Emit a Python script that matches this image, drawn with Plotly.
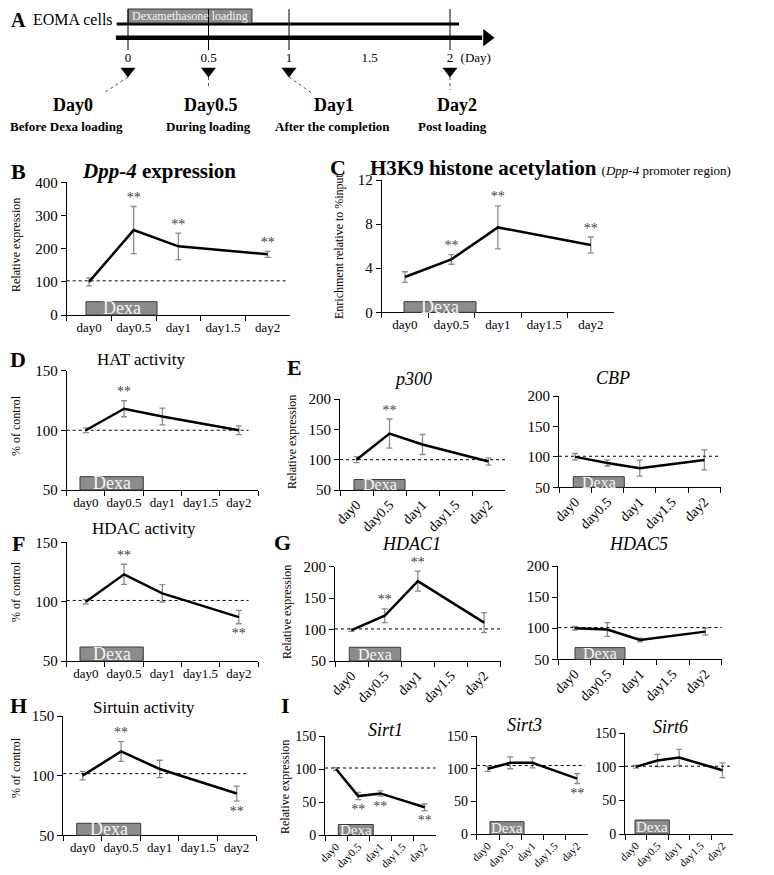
import plotly.graph_objects as go

# The page body has an 8px default margin, so the figure is drawn 8px smaller
# and every target pixel position is shifted by that offset.
PAGE_W, PAGE_H = 774, 875
OFF = 8
W, H = PAGE_W - OFF, PAGE_H - OFF
FONT = "Liberation Serif"

# ---------------- data ----------------
day_categories = ["day0", "day0.5", "day1", "day1.5", "day2"]
sampled_days = ["day0", "day0.5", "day1", "day2"]

dpp4_mean = [100, 256, 207, 183]
dpp4_err = [12, 71, 40, 9]
dpp4_sig = [0, 1, 1, 1]          # 1 = ** above, -1 = ** below

h3k9_mean = [3.2, 4.8, 7.7, 6.1]
h3k9_err = [0.48, 0.44, 1.95, 0.73]
h3k9_sig = [0, 1, 1, 1]

hat_mean = [100, 118, 111.5, 100]
hat_err = [2, 6.7, 7, 3.6]
hat_sig = [0, 1, 0, 0]

p300_mean = [100, 143, 125, 97]
p300_err = [5, 24, 16.5, 6]
p300_sig = [0, 1, 0, 0]

cbp_mean = [100, 90, 81.5, 95]
cbp_err = [5.5, 5, 13, 16.5]
cbp_sig = [0, 0, 0, 0]

hdac_act_mean = [100, 123, 107, 87]
hdac_act_err = [2, 8.5, 7.3, 5.6]
hdac_act_sig = [0, 1, 0, -1]

hdac1_mean = [99, 122, 177, 111]
hdac1_err = [2, 11, 16, 16]
hdac1_sig = [0, 1, 1, 0]

hdac5_mean = [100, 98, 81, 94.5]
hdac5_err = [3, 11, 3, 5.5]
hdac5_sig = [0, 0, 0, 0]

sirt_act_mean = [100, 120.3, 105.6, 85]
sirt_act_err = [3.5, 8.3, 7.3, 6.3]
sirt_act_sig = [0, 1, 0, -1]

sirt1_mean = [100, 59, 63, 42]
sirt1_err = [2, 5.5, 4, 5]
sirt1_sig = [0, -1, -1, -1]

sirt3_mean = [100, 109, 109, 85]
sirt3_err = [4, 9, 7.5, 7.5]
sirt3_sig = [0, 0, 0, -1]

sirt6_mean = [100, 109.5, 114, 95]
sirt6_err = [2, 9, 12, 11]
sirt6_sig = [0, 0, 0, 0]

timeline_ticks = [0, 0.5, 1, 1.5, 2]
timeline_tick_labels = ["0", "0.5", "1", "1.5", "2"]
event_days = [0, 0.5, 1, 2]
event_titles = ["Day0", "Day0.5", "Day1", "Day2"]
event_notes = ["Before Dexa loading", "During loading", "After the completion", "Post loading"]
loading_period = [0, 0.77]


def px2x(p):
    return (p - OFF) / W


def px2y(p):
    return 1 - (p - OFF) / H


fig = go.Figure()
shapes, annotations = [], []
layout = dict(
    width=W, height=H, autosize=False,
    margin=dict(l=0, r=0, t=0, b=0, pad=0),
    paper_bgcolor="white", plot_bgcolor="white",
    showlegend=False,
    font=dict(family=FONT, color="black"),
)


def ann(text, x, y, size, bold=False, angle=0, xanchor="center", color="black"):
    if bold:
        text = "<b>" + text + "</b>"
    annotations.append(dict(text=text, x=px2x(x), y=px2y(y), xref="paper", yref="paper",
                            showarrow=False, xanchor=xanchor, yanchor="middle",
                            textangle=angle, font=dict(size=size, family=FONT, color=color)))


# ---------------- panel A (timeline) ----------------
day_px0, day_scale = 128, 161.0
xa_left, xa_right = 100, 500
ya_top, ya_bot = 8, 135
layout["xaxis"] = dict(domain=[px2x(xa_left), px2x(xa_right)],
                       range=[(xa_left - day_px0) / day_scale, (xa_right - day_px0) / day_scale],
                       visible=False, anchor="y", fixedrange=True)
layout["yaxis"] = dict(domain=[px2y(ya_bot), px2y(ya_top)], range=[ya_bot, ya_top],
                       visible=False, anchor="x", fixedrange=True)

shapes.append(dict(type="line", xref="x", yref="y", x0=-0.07, x1=2.056, y0=24, y1=24,
                   line=dict(color="black", width=3)))
shapes.append(dict(type="rect", xref="x", yref="y", x0=loading_period[0], x1=loading_period[1],
                   y0=9, y1=23, fillcolor="#8c8c8c", line=dict(color="#333", width=1)))
annotations.append(dict(text="Dexamethasone loading", x=sum(loading_period) / 2, y=16, xref="x", yref="y",
                        showarrow=False, xanchor="center", yanchor="middle",
                        font=dict(size=12, family=FONT, color="#f2f2f2")))
shapes.append(dict(type="line", xref="x", yref="y", x0=-0.075, x1=2.2, y0=37.7, y1=37.7,
                   line=dict(color="black", width=4.5)))
for d in event_days:
    shapes.append(dict(type="line", xref="x", yref="y", x0=d, x1=d, y0=9, y1=50,
                       line=dict(color="black", width=1)))
fig.add_trace(go.Scatter(x=[2.23], y=[37.7], mode="markers", xaxis="x", yaxis="y",
                         marker=dict(symbol="triangle-right", size=15, color="black"),
                         hoverinfo="skip", cliponaxis=False))
fig.add_trace(go.Scatter(x=timeline_ticks, y=[59] * len(timeline_ticks), mode="text",
                         text=timeline_tick_labels, xaxis="x", yaxis="y",
                         textfont=dict(size=13, family=FONT), hoverinfo="skip", cliponaxis=False))
fig.add_trace(go.Scatter(x=[2.16], y=[59], mode="text", text=["(Day)"], xaxis="x", yaxis="y",
                         textfont=dict(size=13, family=FONT), hoverinfo="skip", cliponaxis=False))
fig.add_trace(go.Scatter(x=event_days, y=[71] * len(event_days), mode="markers", xaxis="x", yaxis="y",
                         marker=dict(symbol="triangle-down", size=13, color="black"),
                         hoverinfo="skip", cliponaxis=False))
conn_end = [(-0.15, 93), (0.5, 88), (1.14, 93), (2.0, 90)]
for d, (ex, ey) in zip(event_days, conn_end):
    shapes.append(dict(type="line", xref="x", yref="y", x0=d, x1=ex, y0=77, y1=ey,
                       line=dict(color="#555", width=1, dash="dot")))
title_px = [73, 211, 334, 457]
note_px = [66, 208, 332, 452]
for t, tx, n, nx in zip(event_titles, title_px, event_notes, note_px):
    ann(t, tx, 105, 18, bold=True)
    ann(n, nx, 126, 13, bold=True)
ann("A", 18, 20, 20, bold=True)
ann("EOMA cells", 31, 20, 16, xanchor="left")

# ---------------- line panels ----------------
panels = [
    dict(mean=dpp4_mean, err=dpp4_err, sig=dpp4_sig, x0=66.7, x1=290, ytop=182.3, ybot=315,
         yr=[0, 400], dtick=100, angle=0, xfont=13, yfont=15, ref=103, ref_end=0.98,
         box=(86, 157, 13.3), boxfont=18),
    dict(mean=h3k9_mean, err=h3k9_err, sig=h3k9_sig, x0=381.7, x1=614, ytop=180, ybot=312.3,
         yr=[0, 12], dtick=4, angle=0, xfont=13, yfont=15, ref=None, ref_end=1,
         box=(404, 476, 10.6), boxfont=18),
    dict(mean=hat_mean, err=hat_err, sig=hat_sig, x0=66.7, x1=258, ytop=370.5, ybot=490,
         yr=[50, 150], dtick=50, angle=0, xfont=13, yfont=15, ref=100, ref_end=0.95,
         box=(80, 143.3, 13.3), boxfont=18),
    dict(mean=p300_mean, err=p300_err, sig=p300_sig, x0=340, x1=505, ytop=399, ybot=490,
         yr=[50, 200], dtick=50, angle=-45, xfont=14, yfont=15, ref=100, ref_end=1.0,
         box=(354, 405, 10.5), boxfont=16),
    dict(mean=cbp_mean, err=cbp_err, sig=cbp_sig, x0=559, x1=720.5, ytop=396, ybot=487.3,
         yr=[50, 200], dtick=50, angle=-45, xfont=14, yfont=15, ref=101, ref_end=1.0,
         box=(573.3, 624.3, 10.6), boxfont=16),
    dict(mean=hdac_act_mean, err=hdac_act_err, sig=hdac_act_sig, x0=66.7, x1=258, ytop=542.3, ybot=661,
         yr=[50, 150], dtick=50, angle=0, xfont=13, yfont=15, ref=101, ref_end=0.95,
         box=(80, 143.3, 14), boxfont=18),
    dict(mean=hdac1_mean, err=hdac1_err, sig=hdac1_sig, x0=335, x1=500.7, ytop=566.7, ybot=661,
         yr=[50, 200], dtick=50, angle=-45, xfont=14, yfont=15, ref=101, ref_end=1.0,
         box=(349.3, 400.7, 13.7), boxfont=16),
    dict(mean=hdac5_mean, err=hdac5_err, sig=hdac5_sig, x0=558.3, x1=721.7, ytop=566, ybot=659.3,
         yr=[50, 200], dtick=50, angle=-45, xfont=14, yfont=15, ref=101, ref_end=1.0,
         box=(575, 625, 11.7), boxfont=16),
    dict(mean=sirt_act_mean, err=sirt_act_err, sig=sirt_act_sig, x0=63.3, x1=256, ytop=716, ybot=835.3,
         yr=[50, 150], dtick=50, angle=0, xfont=13, yfont=15, ref=101.7, ref_end=0.96,
         box=(76.7, 140.7, 12), boxfont=18),
    dict(mean=sirt1_mean, err=sirt1_err, sig=sirt1_sig, x0=325, x1=435.7, ytop=736, ybot=835,
         yr=[0, 150], dtick=50, angle=-45, xfont=11, yfont=14, ref=101.5, ref_end=1.0,
         box=(338.3, 373.3, 10.5), boxfont=15),
    dict(mean=sirt3_mean, err=sirt3_err, sig=sirt3_sig, x0=476.7, x1=588.3, ytop=736, ybot=834.3,
         yr=[0, 150], dtick=50, angle=-45, xfont=11, yfont=14, ref=105, ref_end=0.97,
         box=(490, 524, 12.6), boxfont=15),
    dict(mean=sirt6_mean, err=sirt6_err, sig=sirt6_sig, x0=625, x1=733.3, ytop=733.3, ybot=834,
         yr=[0, 150], dtick=50, angle=-45, xfont=11, yfont=14, ref=101, ref_end=0.97,
         box=(635, 669.3, 14), boxfont=15),
]

for i, P in enumerate(panels, start=2):
    xr, yr_ = f"x{i}", f"y{i}"
    layout[f"xaxis{i}"] = dict(
        domain=[px2x(P["x0"]), px2x(P["x1"])], anchor=yr_, type="category",
        categoryorder="array", categoryarray=day_categories, range=[-0.5, 4.5],
        showline=True, linecolor="black", linewidth=1, ticks="outside", tickson="boundaries",
        ticklen=5, tickcolor="black", tickangle=P["angle"], automargin=False,
        tickfont=dict(size=P["xfont"], family=FONT), showgrid=False, zeroline=False, fixedrange=True)
    layout[f"yaxis{i}"] = dict(
        domain=[px2y(P["ybot"]), px2y(P["ytop"])], anchor=xr, range=P["yr"], tick0=0, dtick=P["dtick"],
        showline=True, linecolor="black", linewidth=1, ticks="outside", ticklen=5, tickcolor="black",
        automargin=False,
        tickfont=dict(size=P["yfont"], family=FONT), showgrid=False, zeroline=False, fixedrange=True)

    axis_px_w = P["x1"] - P["x0"]
    axis_px_h = P["ybot"] - P["ytop"]
    per_px = (P["yr"][1] - P["yr"][0]) / axis_px_h

    if P["ref"] is not None:
        shapes.append(dict(type="line", xref=f"{xr} domain", yref=yr_, x0=0, x1=P["ref_end"],
                           y0=P["ref"], y1=P["ref"], line=dict(color="black", width=1, dash="dot")))
    bx0, bx1, bh = P["box"]
    fx0 = (bx0 - P["x0"]) / axis_px_w
    fx1 = (bx1 - P["x0"]) / axis_px_w
    fh = bh / axis_px_h
    shapes.append(dict(type="rect", xref=f"{xr} domain", yref=f"{yr_} domain", x0=fx0, x1=fx1, y0=0, y1=fh,
                       fillcolor="#8c8c8c", line=dict(color="#3a3a3a", width=1)))
    annotations.append(dict(text="Dexa", x=(fx0 + fx1) / 2, y=fh / 2, xref=f"{xr} domain",
                            yref=f"{yr_} domain", showarrow=False, xanchor="center", yanchor="middle",
                            font=dict(size=P["boxfont"], family=FONT, color="#f4f4f4")))

    fig.add_trace(go.Scatter(
        x=sampled_days, y=P["mean"], mode="lines", xaxis=xr, yaxis=yr_,
        line=dict(color="black", width=2.5),
        error_y=dict(type="data", array=P["err"], color="#8c8c8c", thickness=1.3, width=3),
        hoverinfo="skip", cliponaxis=False))

    up_x, up_y, dn_x, dn_y = [], [], [], []
    for d, m, e, s in zip(sampled_days, P["mean"], P["err"], P["sig"]):
        if s > 0:
            up_x.append(d)
            up_y.append(m + e + 1 * per_px)
        elif s < 0:
            dn_x.append(d)
            dn_y.append(m - e - 4 * per_px)
    if up_x:
        fig.add_trace(go.Scatter(x=up_x, y=up_y, mode="text", text=["**"] * len(up_x),
                                 textposition="top center", xaxis=xr, yaxis=yr_,
                                 textfont=dict(size=14, family=FONT, color="#444"),
                                 hoverinfo="skip", cliponaxis=False))
    if dn_x:
        fig.add_trace(go.Scatter(x=dn_x, y=dn_y, mode="text", text=["**"] * len(dn_x),
                                 textposition="bottom center", xaxis=xr, yaxis=yr_,
                                 textfont=dict(size=14, family=FONT, color="#444"),
                                 hoverinfo="skip", cliponaxis=False))

# ---------------- titles and labels ----------------
ann("B", 18, 172, 22, bold=True)
ann("<b><i>Dpp-4</i> expression</b>", 159, 171, 21)
ann("Relative expression", 16, 245, 12, angle=-90)

ann("C", 338, 168, 22, bold=True)
ann("<b>H3K9 histone acetylation</b> <span style='font-size:13px'>(<i>Dpp-4</i> promoter region)</span>",
    368, 168, 21, xanchor="left")
ann("Enrichment relative to %input", 339, 246, 12, angle=-90)

ann("D", 18, 360, 22, bold=True)
ann("HAT activity", 141, 360, 17)
ann("% of control", 16, 426, 12, angle=-90)

ann("E", 294.5, 367, 22, bold=True)
ann("<i>p300</i>", 413, 379, 18)
ann("<i>CBP</i>", 613, 378, 18)
ann("Relative expression", 292, 442, 12, angle=-90)

ann("F", 18, 543, 22, bold=True)
ann("HDAC activity", 144, 528, 17)
ann("% of control", 16, 592, 12, angle=-90)

ann("G", 282, 542, 22, bold=True)
ann("<i>HDAC1</i>", 411.7, 544, 18)
ann("<i>HDAC5</i>", 638, 544, 18)
ann("Relative expression", 287, 612, 12, angle=-90)

ann("H", 18, 705, 22, bold=True)
ann("Sirtuin activity", 144, 707, 17)
ann("% of control", 16, 768, 12, angle=-90)

ann("I", 285, 705, 22, bold=True)
ann("<i>Sirt1</i>", 385, 730, 18)
ann("<i>Sirt3</i>", 524.3, 725, 18)
ann("<i>Sirt6</i>", 670, 727, 18)
ann("Relative expression", 285, 787, 12, angle=-90)

layout["shapes"] = shapes
layout["annotations"] = annotations
fig.update_layout(**layout)
fig.write_html("out.html")
